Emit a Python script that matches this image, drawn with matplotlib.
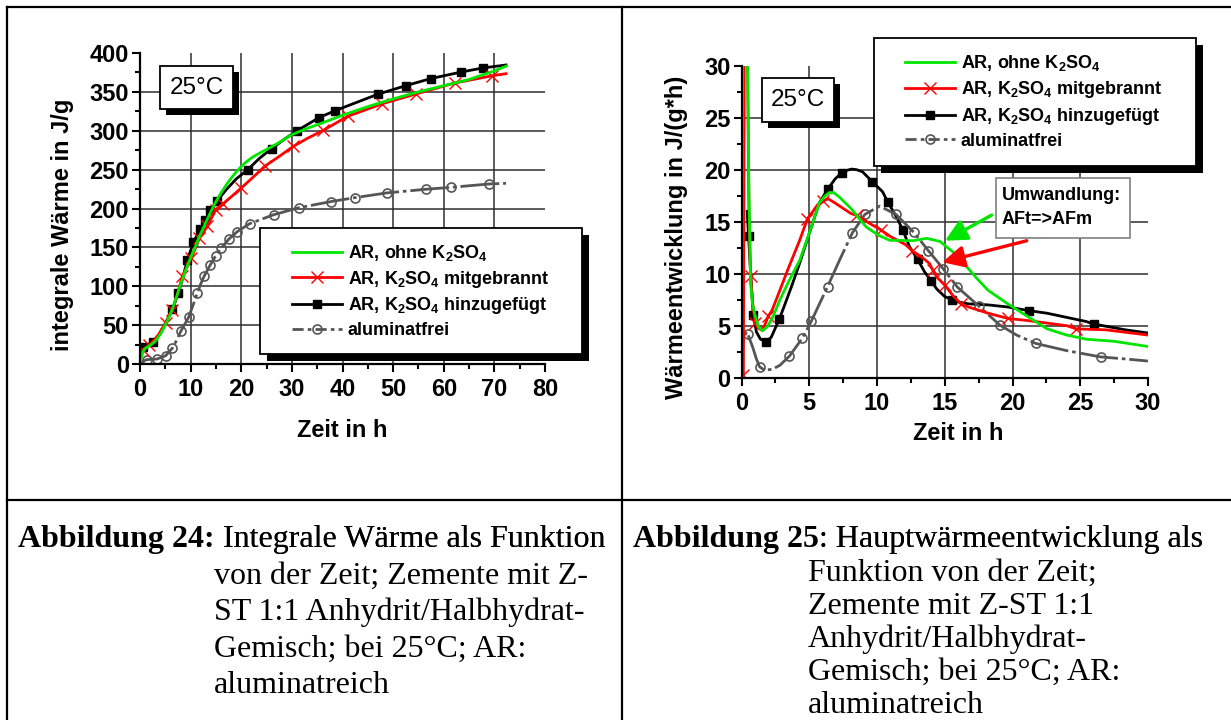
import matplotlib
matplotlib.use("Agg")
import matplotlib.pyplot as plt
from matplotlib.lines import Line2D
from matplotlib.patches import Rectangle
from matplotlib.ticker import MultipleLocator

# ---------------------------------------------------------------- data
# Abbildung 24: integral heat (J/g) vs time (h)
t24_ohne = [0, 0.3, 0.6, 1, 2, 3, 4, 5, 6, 7, 8, 9, 10, 11, 12, 13, 14, 15, 16, 17,
            18, 19, 20, 21, 22, 23, 25, 27, 30, 33, 36, 40, 45, 50, 55, 60, 65, 70, 72.3]
q24_ohne = [5, 9, 16, 20, 24, 29, 38, 50, 64, 82, 102, 120, 137, 152, 168, 182, 196, 209, 220, 230,
            239, 247, 254, 260, 265, 269, 276, 283, 295, 303, 310, 320, 331, 341, 350, 358, 366, 377, 383]

t24_mit = [0, 0.55, 1.8, 3.5, 5.08, 6.4, 7.4, 8.37, 10.16, 11.73, 13.3, 14.93, 16.4, 18.2, 20.0,
           22.3, 24.63, 27.5, 30.3, 33, 36.2, 41.0, 47.9, 54.5, 62.2, 69.6, 72.3]
q24_mit = [6, 18.4, 24, 36, 52.7, 69.9, 90, 112.8, 136.3, 161.6, 177, 198.5, 206.2, 216, 226.4,
           240, 254.3, 267, 280, 290, 300.5, 318.5, 334.8, 347.3, 361.4, 370.8, 373.4]
mk24_mit = [1, 2, 4, 5, 7, 8, 9, 10, 11, 12, 14, 16, 18, 20, 21, 22, 23, 24, 25]

t24_hinzu = [0, 0.55, 1.5, 2.58, 4, 5, 6.41, 7.58, 8.5, 9.38, 10.55, 11.88, 12.9, 13.9, 15.3, 17,
             19, 21.3, 23.5, 26, 28.5, 31, 35.4, 38.6, 43, 47, 52.5, 57.4, 63.5, 67.7, 72.3]
q24_hinzu = [8, 21.4, 25, 28.3, 40, 52, 70.7, 91.3, 112, 134.2, 156.5, 173.6, 185.6, 197.6, 210, 224,
             238, 250, 264, 277, 289, 300, 317, 326, 337, 347, 358, 367, 375.6, 380.7, 384.6]
mk24_hinzu = [1, 3, 6, 7, 9, 10, 11, 12, 13, 14, 17, 19, 21, 22, 23, 25, 26, 27, 28, 29]

t24_frei = [0, 0.5, 1.33, 3.36, 5.08, 6.41, 7.2, 8.05, 9.6, 10.5, 11.3, 12.0, 12.67, 13.84, 14.93,
            16.03, 17.6, 19.16, 21.66, 26.4, 31.4, 37.8, 42.5, 48.7, 56.4, 61.4, 68.9, 72.3]
q24_frei = [0, 3, 5.6, 6.4, 10.7, 20.6, 30, 42, 60, 76, 91, 103, 113, 127, 139,
            149, 161, 170, 180.5, 192, 201, 209, 214, 220, 224.7, 227.2, 231.5, 232.4]
mk24_frei = [2, 3, 4, 5, 7, 8, 10, 12, 13, 14, 15, 16, 17, 18, 19, 20, 21, 22, 23, 24, 25, 26]

# Abbildung 25: heat flow J/(g*h) vs time (h); values above 30 are clipped by the axis
t25_ohne = [0.0, 0.08, 0.15, 0.32, 0.45, 0.55, 0.67, 0.8, 0.96, 1.25, 1.55, 1.9, 2.3, 2.84, 3.5,
            4.3, 5.16, 5.74, 6.1, 6.46, 6.8, 7.2, 8.06, 9.2, 10.1, 10.96, 11.7, 12.66, 13.67,
            14.65, 15.6, 16.6, 17.36, 18.2, 19.65, 21.1, 22.55, 24.0, 25.45, 27.5, 30.0]
w25_ohne = [3.5, 28, 45, 45, 30, 18, 9.1, 7.2, 6.2, 4.9, 4.5, 4.9, 5.8, 7.5, 9.3,
            11.3, 14.5, 16.8, 17.4, 17.8, 17.8, 17.4, 16.3, 14.5, 13.7, 13.2, 13.2, 13.17, 13.4,
            13.1, 12.1, 10.7, 9.56, 8.4, 7.1, 5.9, 4.7, 4.1, 3.7, 3.5, 3.0]

t25_mit = [0.0, 0.14, 0.2, 0.3, 0.45, 0.55, 0.67, 0.8, 1.0, 1.2, 1.45, 1.7, 1.97, 2.26, 2.8, 3.42,
           4.29, 4.87, 5.16, 5.6, 6.03, 6.4, 6.9, 8.06, 8.5, 9.5, 10.3, 10.96, 12.1, 12.6, 13.3,
           13.86, 14.1, 14.4, 15.0, 15.6, 16.2, 16.75, 18.2, 19.65, 21.1, 24.0, 24.7, 26.9, 30.0]
w25_mit = [0.0, 0.25, 30, 45, 30, 16, 9.8, 7.5, 5.3, 4.8, 4.6, 5.0, 5.9, 6.5, 8.3, 10.4,
           13.2, 15.3, 15.8, 16.6, 17.0, 17.2, 16.8, 15.8, 15.6, 14.8, 14.2, 13.6, 12.8, 12.2, 11.6,
           11.0, 10.4, 9.7, 8.9, 7.9, 7.1, 6.8, 6.2, 5.7, 5.5, 5.0, 4.7, 4.6, 4.1]
mk25_mit = [1, 6, 8, 12, 17, 20, 24, 26, 29, 32, 34, 36, 39, 42]

t25_hinzu = [0.42, 0.52, 0.7, 0.87, 1.1, 1.4, 1.83, 2.2, 2.78, 3.13, 3.7, 4.29, 5.16, 5.74, 6.35,
             6.9, 7.39, 7.8, 8.14, 8.5, 8.93, 9.65, 10.4, 10.8, 11.54, 11.9, 12.4, 12.99, 13.5,
             14.0, 14.43, 15.0, 15.54, 15.9, 16.75, 18.2, 19.65, 21.25, 22.55, 25.45, 26.0, 28.35, 30.0]
w25_hinzu = [16.0, 13.65, 9.5, 6.0, 4.4, 3.7, 3.46, 3.9, 5.6, 6.8, 8.8, 11.0, 14.5, 16.8, 18.1,
             19.1, 19.7, 19.95, 20.06, 20.0, 19.8, 18.85, 17.9, 16.9, 15.2, 14.2, 12.6, 11.4, 10.2,
             9.3, 8.5, 7.8, 7.5, 7.3, 7.1, 7.0, 6.8, 6.44, 6.2, 5.4, 5.16, 4.6, 4.3]
mk25_hinzu = [1, 3, 6, 8, 14, 16, 21, 23, 25, 27, 29, 32, 37, 40]

t25_frei = [0.0, 0.1, 0.2, 0.38, 0.46, 0.81, 1.1, 1.33, 1.68, 2.26, 2.84, 3.54, 4.49, 5.16, 6.35,
            7.2, 8.17, 9.1, 10.2, 11.4, 12.7, 13.8, 14.87, 15.94, 17.5, 19.07, 20.3, 21.7, 24.0,
            26.5, 28.35, 30.0]
w25_frei = [0.0, 3.2, 4.0, 4.4, 4.2, 3.0, 1.8, 1.06, 0.74, 0.8, 1.2, 2.08, 3.8, 5.45, 8.75,
            11.2, 13.9, 15.7, 16.5, 15.7, 14.0, 12.2, 10.5, 8.7, 6.9, 5.06, 4.1, 3.3, 2.6,
            2.0, 1.8, 1.6]
mk25_frei = [4, 7, 11, 12, 13, 14, 16, 17, 19, 20, 21, 22, 23, 24, 25, 27, 29]

labels = ["AR, ohne K$_2$SO$_4$", "AR, K$_2$SO$_4$ mitgebrannt",
          "AR, K$_2$SO$_4$ hinzugefügt", "aluminatfrei"]

# ---------------------------------------------------------------- styling
W, H = 1231, 720
plt.rcParams['font.family'] = ['Liberation Sans', 'DejaVu Sans']
plt.rcParams['font.weight'] = 'bold'
plt.rcParams['mathtext.fontset'] = 'custom'
plt.rcParams['mathtext.rm'] = 'Liberation Sans:bold'
plt.rcParams['mathtext.it'] = 'Liberation Sans:bold'
plt.rcParams['mathtext.bf'] = 'Liberation Sans:bold'
plt.rcParams['mathtext.default'] = 'rm'

GREEN, RED, BLACK, GRAY = '#00e600', '#ff0000', '#000000', '#555555'
DASHDOT = (0, (14, 1.4, 1.3, 1.4))

STYLES = [
    dict(color=GREEN, lw=2.0),
    dict(color=RED, lw=2.0, marker='x', ms=9, mew=1.0, mec=RED),
    dict(color=BLACK, lw=2.0, marker='s', ms=5.2, mec=BLACK, mfc=BLACK),
    dict(color=GRAY, lw=2.0, ls=DASHDOT, marker='o', ms=6.5, mew=1.2, mfc='none', mec=GRAY),
]
LEGEND_STYLES = [dict(s) for s in STYLES]
LEGEND_STYLES[3]['ls'] = (0, (4, 1.5, 1.3, 1.5))

fig = plt.figure(figsize=(W / 100, H / 100), dpi=100)
fig.patch.set_facecolor('white')


def fx(px):
    return px / W


def fy(py):
    return 1 - py / H


def frame_lines():
    kw = dict(color='black', lw=1.6, transform=fig.transFigure, zorder=20)
    fig.lines.append(Line2D([fx(7), fx(W)], [fy(7), fy(7)], **kw))
    fig.lines.append(Line2D([fx(7), fx(7)], [fy(7), fy(H)], **kw))
    fig.lines.append(Line2D([fx(622), fx(622)], [fy(7), fy(H)], **kw))
    fig.lines.append(Line2D([fx(7), fx(W)], [fy(500), fy(500)], **kw))


def box(x0, y0, x1, y1, off=6, edge='black', lw=1.3, shadow=True):
    if shadow:
        fig.patches.append(Rectangle((fx(x0 + off), fy(y1 + off)), (x1 - x0) / W, (y1 - y0) / H,
                                     transform=fig.transFigure, facecolor='black',
                                     edgecolor='none', zorder=10))
    fig.patches.append(Rectangle((fx(x0), fy(y1)), (x1 - x0) / W, (y1 - y0) / H,
                                 transform=fig.transFigure, facecolor='white',
                                 edgecolor=edge, lw=lw, zorder=11))


def style_axes(ax, xmax, ymax, xmaj, xmin_, ymaj, ymin_):
    ax.set_xlim(0, xmax)
    ax.set_ylim(0, ymax)
    for s in ('top', 'right'):
        ax.spines[s].set_visible(False)
    for s in ('left', 'bottom'):
        ax.spines[s].set_linewidth(1.6)
        ax.spines[s].set_zorder(5)
    ax.xaxis.set_major_locator(MultipleLocator(xmaj))
    ax.xaxis.set_minor_locator(MultipleLocator(xmin_))
    ax.yaxis.set_major_locator(MultipleLocator(ymaj))
    ax.yaxis.set_minor_locator(MultipleLocator(ymin_))
    ax.tick_params(which='major', direction='out', length=6, width=1.5, labelsize=17)
    ax.tick_params(which='minor', direction='out', length=3.5, width=1.5)
    ax.tick_params(axis='x', pad=4)
    ax.tick_params(axis='y', pad=2)
    for v in ax.get_xticks():
        if 0 < v < xmax:
            ax.axvline(v, color='#2e2e2e', lw=1.1, zorder=0.5)
    for v in ax.get_yticks():
        if 0 < v < ymax:
            ax.axhline(v, color='#2e2e2e', lw=1.1, zorder=0.5)
    ax.patch.set_alpha(0)


def draw_series(ax, series, marks):
    order = [2, 3, 1, 0]
    for i in order:
        x, y = series[i]
        kw = dict(STYLES[i])
        if marks[i] is not None:
            kw['markevery'] = marks[i]
        ax.plot(x, y, zorder=2 + order.index(i), clip_on=True, **kw)


def legend_at(xh, yc, box_rect):
    box(*box_rect, off=7)
    handles = [Line2D([], [], **LEGEND_STYLES[i]) for i in range(4)]
    leg = fig.legend(handles, labels, loc='center left', bbox_to_anchor=(fx(xh), fy(yc)),
                     frameon=False, fontsize=13, handlelength=2.75, handletextpad=0.33,
                     labelspacing=0.32, borderpad=0, borderaxespad=0, numpoints=1)
    leg.set_zorder(12)


frame_lines()

# ---------------------------------------------------------------- Abbildung 24
ax1 = fig.add_axes([fx(140), fy(364), (545 - 140) / W, (364 - 53) / H])
style_axes(ax1, 80, 400, 10, 5, 50, 25)
draw_series(ax1,
            [(t24_ohne, q24_ohne), (t24_mit, q24_mit), (t24_hinzu, q24_hinzu), (t24_frei, q24_frei)],
            [None, mk24_mit, mk24_hinzu, mk24_frei])
fig.text(fx(62), fy(225), "integrale Wärme in J/g", rotation=90, ha='center', va='center',
         fontsize=17)
fig.text(fx(342), fy(437), "Zeit in h", ha='center', va='baseline', fontsize=17)
box(160, 66, 233, 109, off=6)
fig.text(fx(196.5), fy(88), "25°C", ha='center', va='center', fontsize=17.5,
         fontweight='normal', zorder=13)
legend_at(292, 291, (260, 228, 582, 354))

# ---------------------------------------------------------------- Abbildung 25
ax2 = fig.add_axes([fx(741.5), fy(377.7), (1148 - 741.5) / W, (377.7 - 65.7) / H])
style_axes(ax2, 30, 30, 5, 2.5, 5, 2.5)
draw_series(ax2,
            [(t25_ohne, w25_ohne), (t25_mit, w25_mit), (t25_hinzu, w25_hinzu), (t25_frei, w25_frei)],
            [None, mk25_mit, mk25_hinzu, mk25_frei])
fig.text(fx(677), fy(237), "Wärmeentwicklung in J/(g*h)", rotation=90, ha='center',
         va='center', fontsize=17)
fig.text(fx(958), fy(440), "Zeit in h", ha='center', va='baseline', fontsize=17)
box(762, 78, 834, 122, off=6)
fig.text(fx(798), fy(100), "25°C", ha='center', va='center', fontsize=17.5,
         fontweight='normal', zorder=13)
legend_at(905, 101.5, (873.5, 38, 1195.7, 166))

# annotation: AFt -> AFm conversion
box(996, 178, 1130, 238, edge='#7f7f7f', lw=1.2, shadow=False)
fig.text(fx(1002), fy(195), "Umwandlung:", ha='left', va='center', fontsize=13, zorder=13)
fig.text(fx(1002), fy(220), "AFt=>AFm", ha='left', va='center', fontsize=13, zorder=13)
for tail, head, col in (((18.47, 15.64), (15.02, 13.17), GREEN),
                        ((21.05, 13.17), (14.82, 11.1), RED)):
    ax2.annotate("", xy=head, xytext=tail, annotation_clip=False, zorder=9,
                 arrowprops=dict(arrowstyle='-|>,head_length=0.6,head_width=0.3',
                                 color=col, lw=2.4, shrinkA=0, shrinkB=0, mutation_scale=22))

# ---------------------------------------------------------------- captions
SERIF = ['Liberation Serif', 'DejaVu Serif']
CAP = 23


def caption(x, y, bold, rest):
    t = fig.text(fx(x), fy(y), bold, family=SERIF, fontweight='bold', fontsize=CAP,
                 ha='left', va='baseline')
    ann = plt.annotate(rest, xy=(1, 0), xycoords=t, ha='left', va='bottom',
                       family=SERIF, fontweight='normal', fontsize=CAP)
    fig.texts.append(ann)
    return t


def plain(x, y, s):
    fig.text(fx(x), fy(y), s, family=SERIF, fontweight='normal', fontsize=CAP,
             ha='left', va='baseline')


caption(18, 547, "Abbildung 24:", " Integrale Wärme als Funktion")
for i, s in enumerate(["von der Zeit; Zemente mit Z-", "ST 1:1 Anhydrit/Halbhydrat-",
                       "Gemisch; bei 25°C; AR:", "aluminatreich"]):
    plain(214, 583.5 + 36.5 * i, s)

caption(633, 547, "Abbildung 25", ": Hauptwärmeentwicklung als")
for i, s in enumerate(["Funktion von der Zeit;", "Zemente mit Z-ST 1:1",
                       "Anhydrit/Halbhydrat-", "Gemisch; bei 25°C; AR:", "aluminatreich"]):
    plain(808, 581 + 33 * i, s)

fig.savefig("out.png", dpi=100, facecolor='white')
